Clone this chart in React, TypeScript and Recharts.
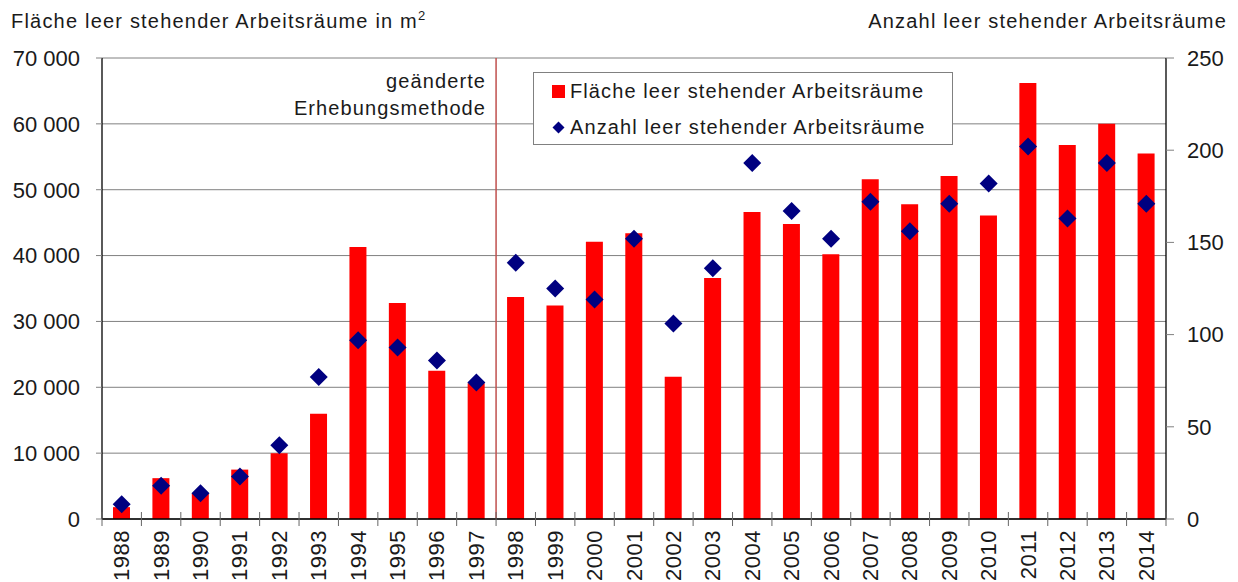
import React from 'react';
import { ComposedChart, Bar, Line, XAxis, YAxis, CartesianGrid, ReferenceLine, Legend } from 'recharts';

const years = ['1988','1989','1990','1991','1992','1993','1994','1995','1996','1997','1998','1999','2000','2001','2002','2003','2004','2005','2006','2007','2008','2009','2010','2011','2012','2013','2014'];
const areaM2 = [1800,6200,3900,7500,10000,16000,41300,32800,22500,20600,33700,32400,42100,43400,21600,36600,46600,44800,40200,51600,47800,52100,46100,66200,56800,60000,55500];
const roomCount = [8,18,14,23,40,77,97,93,86,74,139,125,119,152,106,136,193,167,152,172,156,171,182,202,163,193,171];
const leftTicks = [0,10000,20000,30000,40000,50000,60000,70000];
const rightTicks = [0,50,100,150,200,250];

const data = years.map((y, i) => ({ year: y, area: areaM2[i], count: roomCount[i] }));

const W = 1238;
const H = 582;
const LEFT_W = 102;
const RIGHT_W = 72;
const FONT = '"Liberation Sans", Arial, sans-serif';
const TXT = '#1a1a1a';
const BAND = (W - LEFT_W - RIGHT_W) / years.length;

const fmtThousands = (v: number) => (v === 0 ? '0' : `${v / 1000} 000`);

const YearTick = (props: any) => {
  const { x, y, payload, index } = props;
  const half = BAND / 2;
  return (
    <g>
      <line x1={x - half} x2={x - half} y1={y - 7} y2={y + 7} stroke="#666" />
      {index === years.length - 1 && <line x1={x + half} x2={x + half} y1={y - 7} y2={y + 7} stroke="#666" />}
      <text
        x={x}
        y={y + 11}
        transform={`rotate(-90 ${x} ${y + 11})`}
        textAnchor="end"
        dominantBaseline="central"
        fontFamily={FONT}
        fontSize={22}
        letterSpacing={0.5}
        fill={TXT}
      >
        {payload.value}
      </text>
    </g>
  );
};

const Diamond = (props: any) => {
  const { cx, cy, index } = props;
  if (cx == null || cy == null) return null;
  const r = 9;
  return (
    <polygon
      key={`d-${index}`}
      points={`${cx},${cy - r} ${cx + r},${cy} ${cx},${cy + r} ${cx - r},${cy}`}
      fill="#000080"
    />
  );
};

const MethodLabel = (props: any) => {
  const { viewBox } = props;
  const x = viewBox.x - 10;
  return (
    <g fontFamily={FONT} fontSize={20} letterSpacing={1.1} fill={TXT} textAnchor="end">
      <text x={x} y={88}>geänderte</text>
      <text x={x} y={115}>Erhebungsmethode</text>
    </g>
  );
};

const LegendBox = () => (
  <div
    style={{
      border: '1px solid #808080',
      background: '#fff',
      padding: '0 0 0 18px',
      fontFamily: FONT,
      fontSize: 20,
      letterSpacing: 1.1,
      color: TXT,
      lineHeight: '36px',
      boxSizing: 'border-box',
      width: 420,
      height: 73,
    }}
  >
    <div style={{ display: 'flex', alignItems: 'center' }}>
      <span style={{ display: 'inline-block', width: 13, height: 13, background: '#ff0000', marginRight: 5 }} />
      Fläche leer stehender Arbeitsräume
    </div>
    <div style={{ display: 'flex', alignItems: 'center' }}>
      <svg width={13} height={13} style={{ marginRight: 5 }}>
        <polygon points="6.5,0.5 12.5,6.5 6.5,12.5 0.5,6.5" fill="#000080" />
      </svg>
      Anzahl leer stehender Arbeitsräume
    </div>
  </div>
);

export default function App() {
  return (
    <div style={{ position: 'absolute', left: 0, top: 0, width: W, height: H, background: '#fff', overflow: 'hidden' }}>
      <div style={{ position: 'absolute', left: 11, top: 9, fontFamily: FONT, fontSize: 20, letterSpacing: 1.2, color: TXT, whiteSpace: 'nowrap', lineHeight: '24px' }}>
        Fläche leer stehender Arbeitsräume in m<sup style={{ fontSize: 13, lineHeight: 0 }}>2</sup>
      </div>
      <div style={{ position: 'absolute', right: 11, top: 9, fontFamily: FONT, fontSize: 20, letterSpacing: 1.2, color: TXT, whiteSpace: 'nowrap', lineHeight: '24px' }}>
        Anzahl leer stehender Arbeitsräume
      </div>
      <ComposedChart width={W} height={H} data={data} margin={{ top: 58, right: 0, bottom: 0, left: 0 }} barCategoryGap={0}>
        <CartesianGrid yAxisId="left" vertical={false} stroke="#808080" />
        <XAxis
          dataKey="year"
          height={63}
          interval={0}
          tick={<YearTick />}
          tickLine={false}
          tickSize={0}
          tickMargin={0}
          axisLine={{ stroke: '#000', strokeWidth: 1.3 }}
        />
        <YAxis
          yAxisId="left"
          width={LEFT_W}
          domain={[0, 70000]}
          ticks={leftTicks}
          interval={0}
          tickFormatter={fmtThousands}
          tickSize={6}
          tickMargin={16}
          tickLine={{ stroke: '#808080' }}
          axisLine={{ stroke: '#000', strokeWidth: 1.3 }}
          tick={{ fontFamily: FONT, fontSize: 22, fill: TXT }}
        />
        <YAxis
          yAxisId="right"
          orientation="right"
          width={RIGHT_W}
          domain={[0, 250]}
          ticks={rightTicks}
          interval={0}
          tickSize={8}
          tickMargin={13}
          tickLine={{ stroke: '#808080' }}
          axisLine={{ stroke: '#000', strokeWidth: 1.3 }}
          tick={{ fontFamily: FONT, fontSize: 22, fill: TXT }}
        />
        <Bar yAxisId="left" dataKey="area" fill="#ff0000" barSize={17} isAnimationActive={false} />
        <Line
          yAxisId="right"
          dataKey="count"
          stroke="none"
          dot={<Diamond />}
          activeDot={false}
          isAnimationActive={false}
        />
        <ReferenceLine yAxisId="left" x="1998" position="start" stroke="#c0504d" strokeWidth={1.5} label={<MethodLabel />} />
        <Legend
          layout="vertical"
          align="center"
          verticalAlign="middle"
          content={<LegendBox />}
          wrapperStyle={{ position: 'absolute', left: 533, top: 72, width: 420, height: 73 }}
        />
      </ComposedChart>
    </div>
  );
}
